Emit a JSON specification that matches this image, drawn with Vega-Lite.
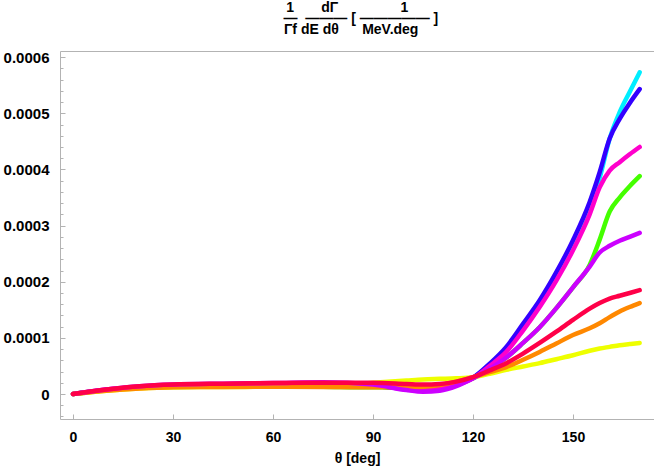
{
  "$schema": "https://vega.github.io/schema/vega-lite/v6.json",
  "width": 594,
  "height": 368,
  "autosize": {"type": "none"},
  "padding": {"left": 60, "top": 51, "right": 0, "bottom": 53},
  "background": "white",
  "config": {
    "view": {"stroke": "#b3b3b3", "strokeWidth": 1},
    "axis": {"grid": false, "domain": false, "labelFont": "Liberation Sans", "labelFontWeight": "bold", "labelFontSize": 14, "labelColor": "black", "tickColor": "#b3b3b3", "titleFont": "Liberation Sans", "titleColor": "black"}
  },
  "title": {
    "text": ["1\u00a0\u00a0\u00a0\u00a0\u00a0\u00a0\u00a0dΓ\u00a0\u00a0\u00a0\u00a0\u00a0\u00a0\u00a0\u00a0\u00a0\u00a0\u00a0\u00a0\u00a0\u00a0\u00a0\u00a01\u00a0\u00a0\u00a0\u00a0\u00a0\u200b", "\u200b\u00a0\u00a0―\u00a0\u00a0―――\u00a0[\u00a0―――――\u00a0]", "Γf\u00a0dE\u00a0dθ\u00a0\u00a0\u00a0\u00a0\u00a0\u00a0MeV.deg\u00a0\u00a0\u00a0\u200b"],
    "font": "Liberation Sans",
    "fontSize": 14,
    "fontWeight": "bold",
    "color": "black",
    "anchor": "middle",
    "lineHeight": 11,
    "offset": 13
  },
  "data": {"values": [
    {"s":"C","t":0,"v":0},{"s":"C","t":10,"v":7e-6},{"s":"C","t":20,"v":1.2e-5},{"s":"C","t":30,"v":1.4e-5},{"s":"C","t":45,"v":1.5e-5},{"s":"C","t":60,"v":1.6e-5},{"s":"C","t":75,"v":1.6e-5},{"s":"C","t":90,"v":1.4e-5},{"s":"C","t":100,"v":1.0e-5},{"s":"C","t":105,"v":8e-6},{"s":"C","t":110,"v":1.1e-5},{"s":"C","t":115,"v":1.8e-5},{"s":"C","t":120,"v":2.9e-5},{"s":"C","t":125,"v":5.2e-5},{"s":"C","t":130,"v":8.0e-5},{"s":"C","t":135,"v":1.20e-4},{"s":"C","t":140,"v":1.61e-4},{"s":"C","t":145,"v":2.10e-4},{"s":"C","t":150,"v":2.62e-4},{"s":"C","t":155,"v":3.30e-4},{"s":"C","t":158,"v":3.85e-4},{"s":"C","t":161,"v":4.55e-4},{"s":"C","t":164,"v":5.02e-4},{"s":"C","t":167,"v":5.38e-4},{"s":"C","t":170,"v":5.73e-4},
    {"s":"B","t":0,"v":0},{"s":"B","t":10,"v":7e-6},{"s":"B","t":20,"v":1.2e-5},{"s":"B","t":30,"v":1.4e-5},{"s":"B","t":45,"v":1.5e-5},{"s":"B","t":60,"v":1.6e-5},{"s":"B","t":75,"v":1.6e-5},{"s":"B","t":90,"v":1.4e-5},{"s":"B","t":100,"v":1.0e-5},{"s":"B","t":105,"v":8e-6},{"s":"B","t":110,"v":1.1e-5},{"s":"B","t":115,"v":1.8e-5},{"s":"B","t":120,"v":2.9e-5},{"s":"B","t":125,"v":5.4e-5},{"s":"B","t":130,"v":8.4e-5},{"s":"B","t":135,"v":1.25e-4},{"s":"B","t":140,"v":1.67e-4},{"s":"B","t":145,"v":2.17e-4},{"s":"B","t":150,"v":2.74e-4},{"s":"B","t":155,"v":3.42e-4},{"s":"B","t":158,"v":3.95e-4},{"s":"B","t":161,"v":4.55e-4},{"s":"B","t":164,"v":4.90e-4},{"s":"B","t":167,"v":5.18e-4},{"s":"B","t":170,"v":5.43e-4},
    {"s":"G","t":0,"v":0},{"s":"G","t":10,"v":7e-6},{"s":"G","t":20,"v":1.1e-5},{"s":"G","t":30,"v":1.25e-5},{"s":"G","t":45,"v":1.3e-5},{"s":"G","t":60,"v":1.4e-5},{"s":"G","t":75,"v":1.3e-5},{"s":"G","t":90,"v":1.2e-5},{"s":"G","t":100,"v":1.2e-5},{"s":"G","t":105,"v":1.3e-5},{"s":"G","t":110,"v":1.6e-5},{"s":"G","t":115,"v":2.1e-5},{"s":"G","t":120,"v":2.8e-5},{"s":"G","t":125,"v":4.5e-5},{"s":"G","t":130,"v":6.5e-5},{"s":"G","t":135,"v":9.1e-5},{"s":"G","t":140,"v":1.19e-4},{"s":"G","t":145,"v":1.53e-4},{"s":"G","t":150,"v":1.90e-4},{"s":"G","t":155,"v":2.30e-4},{"s":"G","t":158,"v":2.75e-4},{"s":"G","t":161,"v":3.25e-4},{"s":"G","t":164,"v":3.50e-4},{"s":"G","t":167,"v":3.70e-4},{"s":"G","t":170,"v":3.88e-4},
    {"s":"M","t":0,"v":0},{"s":"M","t":10,"v":8e-6},{"s":"M","t":20,"v":1.3e-5},{"s":"M","t":30,"v":1.6e-5},{"s":"M","t":45,"v":1.75e-5},{"s":"M","t":60,"v":1.85e-5},{"s":"M","t":75,"v":1.9e-5},{"s":"M","t":90,"v":1.6e-5},{"s":"M","t":100,"v":8e-6},{"s":"M","t":105,"v":6e-6},{"s":"M","t":110,"v":9e-6},{"s":"M","t":115,"v":1.6e-5},{"s":"M","t":120,"v":2.8e-5},{"s":"M","t":125,"v":5.0e-5},{"s":"M","t":130,"v":7.5e-5},{"s":"M","t":135,"v":1.13e-4},{"s":"M","t":140,"v":1.55e-4},{"s":"M","t":145,"v":2.02e-4},{"s":"M","t":150,"v":2.56e-4},{"s":"M","t":155,"v":3.20e-4},{"s":"M","t":158,"v":3.68e-4},{"s":"M","t":161,"v":3.98e-4},{"s":"M","t":164,"v":4.13e-4},{"s":"M","t":167,"v":4.27e-4},{"s":"M","t":170,"v":4.40e-4},
    {"s":"Y","t":0,"v":0},{"s":"Y","t":10,"v":6e-6},{"s":"Y","t":20,"v":1.0e-5},{"s":"Y","t":30,"v":1.2e-5},{"s":"Y","t":45,"v":1.25e-5},{"s":"Y","t":60,"v":1.3e-5},{"s":"Y","t":75,"v":1.5e-5},{"s":"Y","t":90,"v":2.0e-5},{"s":"Y","t":100,"v":2.4e-5},{"s":"Y","t":105,"v":2.6e-5},{"s":"Y","t":110,"v":2.7e-5},{"s":"Y","t":115,"v":2.8e-5},{"s":"Y","t":120,"v":3.0e-5},{"s":"Y","t":125,"v":3.6e-5},{"s":"Y","t":130,"v":4.3e-5},{"s":"Y","t":135,"v":4.9e-5},{"s":"Y","t":140,"v":5.5e-5},{"s":"Y","t":145,"v":6.2e-5},{"s":"Y","t":150,"v":6.9e-5},{"s":"Y","t":155,"v":7.7e-5},{"s":"Y","t":158,"v":8.1e-5},{"s":"Y","t":161,"v":8.4e-5},{"s":"Y","t":164,"v":8.7e-5},{"s":"Y","t":167,"v":8.9e-5},{"s":"Y","t":170,"v":9.1e-5},
    {"s":"O","t":0,"v":0},{"s":"O","t":10,"v":6e-6},{"s":"O","t":20,"v":1.0e-5},{"s":"O","t":30,"v":1.2e-5},{"s":"O","t":45,"v":1.25e-5},{"s":"O","t":60,"v":1.3e-5},{"s":"O","t":75,"v":1.25e-5},{"s":"O","t":90,"v":1.2e-5},{"s":"O","t":100,"v":1.2e-5},{"s":"O","t":105,"v":1.3e-5},{"s":"O","t":110,"v":1.6e-5},{"s":"O","t":115,"v":2.2e-5},{"s":"O","t":120,"v":3.0e-5},{"s":"O","t":125,"v":3.9e-5},{"s":"O","t":130,"v":4.8e-5},{"s":"O","t":135,"v":6.1e-5},{"s":"O","t":140,"v":7.5e-5},{"s":"O","t":145,"v":9.0e-5},{"s":"O","t":150,"v":1.05e-4},{"s":"O","t":155,"v":1.17e-4},{"s":"O","t":158,"v":1.26e-4},{"s":"O","t":161,"v":1.37e-4},{"s":"O","t":164,"v":1.47e-4},{"s":"O","t":167,"v":1.55e-4},{"s":"O","t":170,"v":1.62e-4},
    {"s":"P","t":0,"v":0},{"s":"P","t":10,"v":8e-6},{"s":"P","t":20,"v":1.4e-5},{"s":"P","t":30,"v":1.7e-5},{"s":"P","t":45,"v":1.85e-5},{"s":"P","t":60,"v":1.95e-5},{"s":"P","t":75,"v":2.1e-5},{"s":"P","t":90,"v":1.7e-5},{"s":"P","t":100,"v":7e-6},{"s":"P","t":105,"v":4e-6},{"s":"P","t":110,"v":6e-6},{"s":"P","t":115,"v":1.4e-5},{"s":"P","t":120,"v":2.8e-5},{"s":"P","t":125,"v":4.5e-5},{"s":"P","t":130,"v":6.5e-5},{"s":"P","t":135,"v":9.1e-5},{"s":"P","t":140,"v":1.19e-4},{"s":"P","t":145,"v":1.53e-4},{"s":"P","t":150,"v":1.90e-4},{"s":"P","t":155,"v":2.27e-4},{"s":"P","t":158,"v":2.52e-4},{"s":"P","t":161,"v":2.64e-4},{"s":"P","t":164,"v":2.73e-4},{"s":"P","t":167,"v":2.80e-4},{"s":"P","t":170,"v":2.87e-4},
    {"s":"R","t":0,"v":0},{"s":"R","t":10,"v":8e-6},{"s":"R","t":20,"v":1.4e-5},{"s":"R","t":30,"v":1.7e-5},{"s":"R","t":45,"v":1.85e-5},{"s":"R","t":60,"v":1.95e-5},{"s":"R","t":75,"v":2.0e-5},{"s":"R","t":90,"v":2.0e-5},{"s":"R","t":100,"v":1.8e-5},{"s":"R","t":105,"v":1.7e-5},{"s":"R","t":110,"v":1.8e-5},{"s":"R","t":115,"v":2.2e-5},{"s":"R","t":120,"v":3.0e-5},{"s":"R","t":125,"v":4.2e-5},{"s":"R","t":130,"v":5.5e-5},{"s":"R","t":135,"v":7.2e-5},{"s":"R","t":140,"v":9.1e-5},{"s":"R","t":145,"v":1.11e-4},{"s":"R","t":150,"v":1.32e-4},{"s":"R","t":155,"v":1.52e-4},{"s":"R","t":158,"v":1.62e-4},{"s":"R","t":161,"v":1.70e-4},{"s":"R","t":164,"v":1.75e-4},{"s":"R","t":167,"v":1.80e-4},{"s":"R","t":170,"v":1.85e-4}
  ]},
  "mark": {"type": "line", "strokeWidth": 4.5, "strokeCap": "round", "strokeJoin": "round", "interpolate": "monotone", "clip": true},
  "encoding": {
    "x": {
      "field": "t", "type": "quantitative",
      "scale": {"domain": [-3.9, 174.3], "nice": false, "zero": false},
      "axis": {"values": [0, 30, 60, 90, 120, 150], "tickSize": -5, "labelPadding": 16, "title": "θ [deg]", "titleFontSize": 14, "titleFontWeight": "bold", "titlePadding": 7}
    },
    "y": {
      "field": "v", "type": "quantitative",
      "scale": {"domain": [-0.0000445, 0.000611], "nice": false, "zero": false},
      "axis": {
        "values": [-0.00004, -0.00002, 0, 0.00002, 0.00004, 0.00006, 0.00008, 0.0001, 0.00012, 0.00014, 0.00016, 0.00018, 0.0002, 0.00022, 0.00024, 0.00026, 0.00028, 0.0003, 0.00032, 0.00034, 0.00036, 0.00038, 0.0004, 0.00042, 0.00044, 0.00046, 0.00048, 0.0005, 0.00052, 0.00054, 0.00056, 0.00058, 0.0006],
        "labelExpr": "abs(datum.value*10000 - round(datum.value*10000)) < 0.01 ? (abs(datum.value) < 1e-9 ? '0' : format(datum.value, '.4f')) : ''",
        "tickSize": {"condition": {"test": "abs(datum.value*10000 - round(datum.value*10000)) < 0.01", "value": -5}, "value": -3},
        "labelPadding": 16,
        "labelFontSize": 15,
        "title": null
      }
    },
    "color": {
      "field": "s", "type": "nominal",
      "scale": {"domain": ["C", "B", "G", "M", "Y", "O", "P", "R"], "range": ["#00eeff", "#3300ff", "#44ff00", "#ff00cc", "#eeff00", "#ff8800", "#cc00ff", "#ff0048"]},
      "legend": null
    }
  }
}
